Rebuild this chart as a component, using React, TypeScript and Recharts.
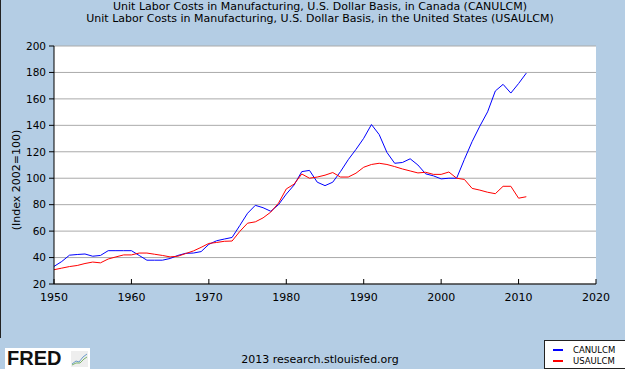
import { LineChart, Line, XAxis, YAxis, CartesianGrid, Legend } from 'recharts';

// annual values, 1950-2011
const years = [
    1950, 1951, 1952, 1953, 1954, 1955, 1956, 1957, 1958, 1959,
    1960, 1961, 1962, 1963, 1964, 1965, 1966, 1967, 1968, 1969,
    1970, 1971, 1972, 1973, 1974, 1975, 1976, 1977, 1978, 1979,
    1980, 1981, 1982, 1983, 1984, 1985, 1986, 1987, 1988, 1989,
    1990, 1991, 1992, 1993, 1994, 1995, 1996, 1997, 1998, 1999,
    2000, 2001, 2002, 2003, 2004, 2005, 2006, 2007, 2008, 2009,
    2010, 2011,
];

const canada = [
    33.3, 37, 41.8, 42.3, 42.7, 41, 41.6, 45.2, 45.2, 45.2,
    45.2, 41.6, 38, 38, 38, 39.3, 41.6, 43.2, 43.4, 44.5,
    50, 52.7, 54, 55.2, 64.3, 73.5, 79.5, 77.7, 75, 80,
    88, 94.8, 105, 105.9, 97, 94.4, 97, 105, 114, 121.8,
    130.2, 140.6, 133, 119.5, 111.3, 111.9, 114.7, 110, 103.3, 101.8,
    99.5, 100, 100, 114.2, 127.7, 139.4, 150.2, 166, 171, 164.4,
    171.6, 179.5,
];

const usa = [
    30.8, 32, 33.2, 34, 35.5, 36.6, 36, 38.9, 40.5, 42,
    42, 43.4, 43.4, 42.5, 41.6, 40.5, 41, 43, 45, 47.7,
    50.7, 51.4, 52.3, 52.5, 59.8, 66, 67, 70, 74.4, 81.2,
    91.9, 95.5, 103.2, 100, 100.9, 102.3, 104.3, 100.9, 100.9, 103.8,
    108.3, 110.4, 111.3, 110.4, 108.8, 107, 105.5, 104, 104.5, 102.9,
    102.9, 104.7, 100, 99.1, 92.3, 91, 89.4, 88.3, 93.9, 93.9,
    84.9, 86,
];

const xTicks = [1950, 1960, 1970, 1980, 1990, 2000, 2010, 2020];
const yTicks = [20, 40, 60, 80, 100, 120, 140, 160, 180, 200];

const titles = [
    'Unit Labor Costs in Manufacturing, U.S. Dollar Basis, in Canada (CANULCM)',
    'Unit Labor Costs in Manufacturing, U.S. Dollar Basis, in the United States (USAULCM)',
];

const BG = '#b4cde4';
const FONT = '"DejaVu Sans", Verdana, sans-serif';

function LegendBox() {
    const items = [
        { name: 'CANULCM', color: '#0000ff' },
        { name: 'USAULCM', color: '#ff0000' },
    ];
    return (
        <div style={{ width: 82, height: 29, background: '#fff', border: '1px solid #222', boxSizing: 'border-box', paddingTop: 3 }}>
            {items.map((it) => (
                <div key={it.name} style={{ display: 'flex', alignItems: 'center', height: 11, fontSize: 8.5, fontFamily: FONT, color: '#000' }}>
                    <div style={{ width: 10, height: 2, background: it.color, marginLeft: 8, marginRight: 10 }} />
                    <span>{it.name}</span>
                </div>
            ))}
        </div>
    );
}

export default function App() {
    const data = years.map((year, i) => ({ year, CANULCM: canada[i], USAULCM: usa[i] }));

    return (
        <div style={{ position: 'absolute', left: 0, top: 0, width: 625, height: 369, background: BG, overflow: 'hidden', fontFamily: FONT }}>
            <div style={{ position: 'absolute', left: 0, top: 0, width: 1, height: 338, background: '#222' }} />
            <div style={{ position: 'absolute', left: 0, top: 1, width: 640, textAlign: 'center', fontSize: 11, lineHeight: '12px', color: '#000' }}>
                {titles.map((t) => <div key={t}>{t}</div>)}
            </div>
            <div style={{ position: 'absolute', left: 16, top: 180, fontSize: 11, color: '#000', whiteSpace: 'nowrap', transform: 'translate(-50%, -50%) rotate(-90deg)' }}>
                (Index 2002=100)
            </div>

            <LineChart width={625} height={369} data={data} margin={{ top: 46, right: 29, bottom: 26, left: 14 }}>
                <CartesianGrid horizontal vertical={false} stroke="#aaa" fill="#fff" />
                <XAxis
                    dataKey="year"
                    type="number"
                    domain={[1950, 2020]}
                    ticks={xTicks}
                    height={30}
                    tickSize={-5}
                    tickMargin={14}
                    stroke="#000"
                    tick={{ fill: '#000', fontSize: 11 }}
                />
                <YAxis
                    domain={[20, 200]}
                    ticks={yTicks}
                    width={40}
                    tickSize={5}
                    tickMargin={3}
                    stroke="#000"
                    tick={{ fill: '#000', fontSize: 10.5 }}
                />
                <Line type="linear" dataKey="CANULCM" stroke="#0000ff" strokeWidth={1} dot={false} isAnimationActive={false} />
                <Line type="linear" dataKey="USAULCM" stroke="#ff0000" strokeWidth={1} dot={false} isAnimationActive={false} />
                <Legend content={<LegendBox />} wrapperStyle={{ left: 544, top: 340, width: 82, height: 29 }} />
            </LineChart>

            <div style={{ position: 'absolute', left: 5, top: 348, width: 85, height: 21, background: '#fff', display: 'flex', alignItems: 'center' }}>
                <span style={{ fontFamily: '"Liberation Sans", Arial, sans-serif', fontWeight: 900, fontSize: 20, color: '#111', marginLeft: 2 }}>FRED</span>
                <svg width="17" height="16" style={{ marginLeft: 10 }}>
                    <rect x="0" y="0" width="17" height="16" fill="#eee" />
                    <polyline points="1,13 5,10 8,11 12,6 16,3" fill="none" stroke="#6a9cc9" strokeWidth="1" />
                    <polyline points="1,14 5,12 9,12 13,8 16,6" fill="none" stroke="#7bb36b" strokeWidth="1" />
                </svg>
            </div>
            <div style={{ position: 'absolute', left: 0, top: 353, width: 640, textAlign: 'center', fontSize: 11, color: '#000' }}>
                2013 research.stlouisfed.org
            </div>
        </div>
    );
}
